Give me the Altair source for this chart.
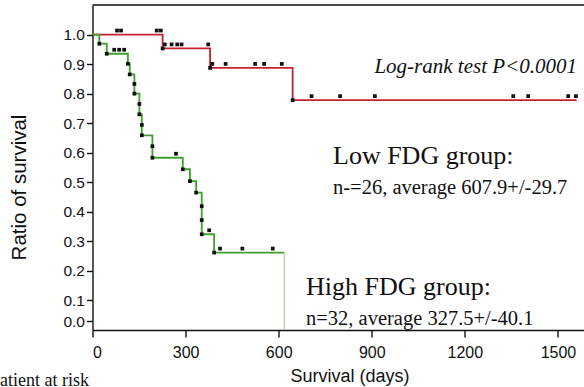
import altair as alt
import pandas as pd

# ---- data ----
low_event_t = [226, 379, 645]
low_event_s = [0.953, 0.887, 0.778]
low_end_t = 1560
low_cens_t = [79, 92, 207, 220, 233, 255, 273, 287, 373, 386, 429, 524, 553, 610,
              706, 798, 910, 1356, 1404, 1533, 1558]
low_cens_s = [1.0, 1.0, 1.0, 1.0, 0.953, 0.953, 0.953, 0.953, 0.953,
              0.887, 0.887, 0.887, 0.887, 0.887,
              0.778, 0.778, 0.778, 0.778, 0.778, 0.778, 0.778]

high_event_t = [22, 46, 114, 120, 135, 135, 151, 151, 159, 159, 193, 193,
                291, 314, 334, 352, 352, 352, 392]
high_event_s = [0.969, 0.935, 0.901, 0.865, 0.833, 0.800, 0.765, 0.730, 0.694,
                0.659, 0.622, 0.583, 0.544, 0.504, 0.465, 0.419, 0.372, 0.324, 0.262]
high_end_t = 618
high_cens_t = [70, 86, 102, 269, 376, 411, 483, 581]
high_cens_s = [0.935, 0.935, 0.935, 0.583, 0.324, 0.262, 0.262, 0.262]

groups = ["Low FDG", "High FDG"]
x_ticks = [0, 300, 600, 900, 1200, 1500]
y_ticks = [0.03, 0.1, 0.2, 0.3, 0.4, 0.5, 0.6, 0.7, 0.8, 0.9, 1.0]

logrank_text = ["Log-rank test P<0.0001"]
low_title = ["Low FDG group:"]
low_stats = ["n-=26, average 607.9+/-29.7"]
high_title = ["High FDG group:"]
high_stats = ["n=32, average 327.5+/-40.1"]
risk_text = ["Patient at risk"]

RED = "#c8202c"
GREEN = "#3f9f2f"

W = 491.5
H = 325


def steps(group, ev_t, ev_s, end_t):
    t = [0] + list(ev_t) + [end_t]
    s = [1.0] + list(ev_s) + [ev_s[-1]]
    return pd.DataFrame({"t": t, "s": s, "group": group, "order": list(range(len(t)))})


lines_df = pd.concat([steps(groups[0], low_event_t, low_event_s, low_end_t),
                      steps(groups[1], high_event_t, high_event_s, high_end_t)])
events_df = pd.DataFrame({"t": low_event_t + high_event_t,
                          "s": low_event_s + high_event_s})
cens_df = pd.DataFrame({"t": low_cens_t + high_cens_t,
                        "s": low_cens_s + high_cens_s})
end_df = pd.DataFrame({"t": [high_end_t], "s": [high_event_s[-1]], "s0": [0.0]})

xscale = alt.Scale(domain=[0, 1584], nice=False, zero=False)
yscale = alt.Scale(domain=[0, 1.1], nice=False, zero=False)

xaxis = alt.Axis(values=x_ticks, title="Survival (days)", grid=False, format="d",
                 labelOverlap=False, labelFontSize=16,
                 tickSize=7, labelPadding=7, titleX=257, titleY=46,
                 titleBaseline="middle", titleAnchor="start", titleAlign="center")
yaxis = alt.Axis(values=y_ticks, title="Ratio of survival", grid=False,
                 labelOverlap=False, tickSize=6, labelPadding=2, titleFontSize=20.5,
                 labelFontSize=15.5,
                 labelExpr="datum.value < 0.05 ? '0.0' : format(datum.value, '.1f')",
                 titleX=-73.5, titleY=182, titleBaseline="middle", titleAlign="center")

X = alt.X("t:Q", scale=xscale, axis=xaxis)
Y = alt.Y("s:Q", scale=yscale, axis=yaxis)

lines = alt.Chart(lines_df).mark_line(interpolate="step-after", strokeWidth=1.8).encode(
    x=X, y=Y,
    color=alt.Color("group:N", scale=alt.Scale(domain=groups, range=[RED, GREEN]), legend=None),
    order="order:Q",
    detail="group:N",
)

end_line = alt.Chart(end_df).mark_rule(color="#9cc490", strokeWidth=1).encode(
    x=X, y=Y, y2="s0:Q")

events = alt.Chart(events_df).mark_square(size=14, color="#111", opacity=1).encode(
    x=X, y=Y)

cens = alt.Chart(cens_df).mark_square(size=14, color="#111", opacity=1, yOffset=-4).encode(
    x=X, y=Y)

top_border = alt.Chart(pd.DataFrame({"k": [0]})).mark_rule(color="#111", strokeWidth=1.4).encode(
    x=alt.value(0), x2=alt.value(W), y=alt.value(0))


def label(texts, px, py, size, align="left", italic=False, baseline="alphabetic"):
    return alt.Chart(pd.DataFrame({"label": texts})).mark_text(
        font="Liberation Serif", fontSize=size, align=align, baseline=baseline,
        fontStyle="italic" if italic else "normal", color="#111"
    ).encode(text="label:N", x=alt.value(px - 92.5), y=alt.value(py - 5))


texts = [
    label(logrank_text, 577, 73, 21, align="right", italic=True),
    label(low_title, 333, 164, 26),
    label(low_stats, 333, 194, 20.5),
    label(high_title, 306, 295, 26),
    label(high_stats, 306, 325, 20.5),
    label(risk_text, -10, 386, 18),
]

chart = alt.layer(lines, end_line, events, cens, top_border, *texts).properties(
    width=W, height=H,
    autosize=alt.AutoSizeParams(type="none"),
    padding={"left": 92.5, "top": 5, "right": 0, "bottom": 57},
    background="white",
).configure_view(stroke=None).configure_axis(
    domainColor="#111", domainWidth=1.4, tickColor="#111", tickWidth=1.4,
    labelFont="Liberation Sans", labelFontSize=15, labelColor="#111",
    titleFont="Liberation Sans", titleFontSize=18, titleFontWeight="normal", titleColor="#111",
)

chart.save("out.html", embed_options={"renderer": "svg", "actions": False})
